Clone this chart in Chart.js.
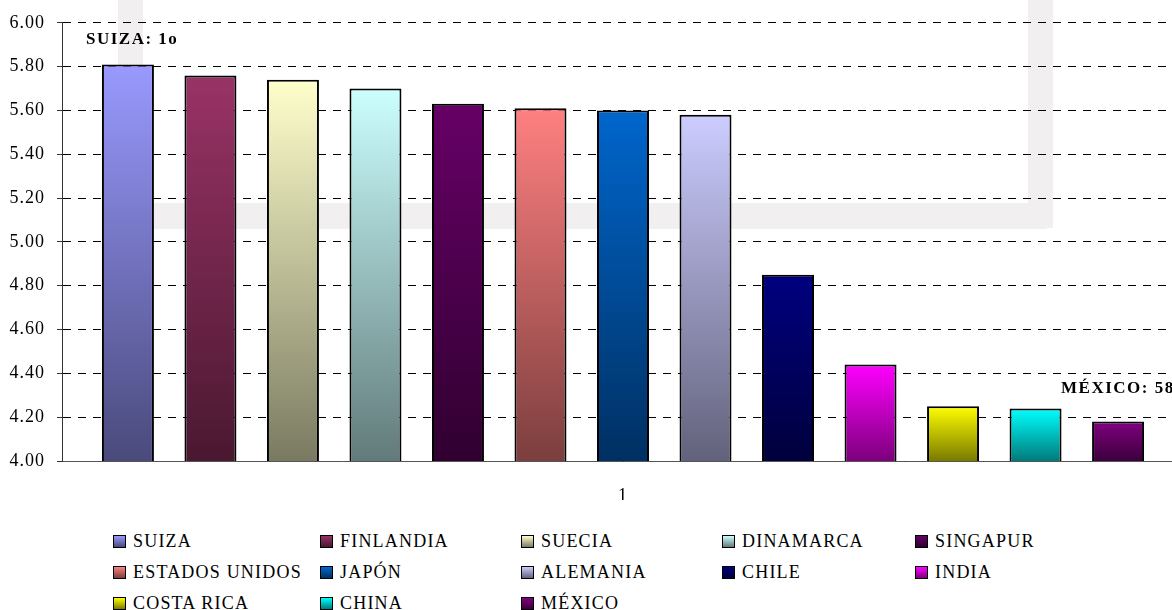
<!DOCTYPE html>
<html>
<head>
<meta charset="utf-8">
<script src="https://cdn.jsdelivr.net/npm/chart.js@4/dist/chart.umd.min.js"></script>
<style>
    html, body { margin: 0; padding: 0; background: #fff; overflow: hidden; width: 1172px; height: 610px; }
    #wrap { position: absolute; left: 0; top: 0; width: 1184px; height: 500px; }
    #legend {
        position: absolute; left: 113px; top: 526px;
        display: grid; grid-template-columns: 207px 201px 201px 193px 200px; grid-auto-rows: 31px;
        font-family: "Liberation Serif", "Times New Roman", serif; font-size: 18px; letter-spacing: 1.2px; color: #000;
    }
    #legend div { display: flex; align-items: center; white-space: nowrap; }
    #legend span.box { width: 11px; height: 11px; border: 1px solid #000; margin-right: 7px; flex: none; }
</style>
</head>
<body>
<div id="wrap"><canvas id="chart"></canvas></div>
<div id="legend"></div>
<script>
// data
const categories = ['1'];
const countries = ['SUIZA', 'FINLANDIA', 'SUECIA', 'DINAMARCA', 'SINGAPUR', 'ESTADOS UNIDOS', 'JAPÓN',
    'ALEMANIA', 'CHILE', 'INDIA', 'COSTA RICA', 'CHINA', 'MÉXICO'];
const scores = [5.81, 5.76, 5.74, 5.70, 5.63, 5.61, 5.60, 5.58, 4.85, 4.44, 4.25, 4.24, 4.18];
const yTicks = [4.0, 4.2, 4.4, 4.6, 4.8, 5.0, 5.2, 5.4, 5.6, 5.8, 6.0];
const notes = [
    { series: 0, text: 'SUIZA: 1o' },
    { series: 12, text: 'MÉXICO: 58o' }
];

// gradient colours, light at the top, dark at the base
const topColors = ['#9999ff', '#993366', '#ffffcc', '#ccffff', '#660066', '#ff8080', '#0066cc',
    '#ccccff', '#000080', '#ff00ff', '#ffff00', '#00ffff', '#800080'];
const bottomColors = ['#4a4a7c', '#4a1830', '#7a7a62', '#627a7a', '#300030', '#7c3e3e', '#003062',
    '#62627c', '#00003c', '#7c007c', '#7a7a00', '#007a7a', '#3c003c'];

const FONT = '"Liberation Serif", "Times New Roman", serif';
const noteOffsets = [{ dx: -42, dy: -25 }, { dx: -57, dy: -33 }];

const barGradient = (i) => (ctx) => {
    const chart = ctx.chart;
    if (!chart.chartArea || ctx.type !== 'data') return topColors[i];
    const y = chart.scales.y;
    const g = chart.ctx.createLinearGradient(0, y.getPixelForValue(ctx.parsed.y), 0, y.getPixelForValue(y.min));
    g.addColorStop(0, topColors[i]);
    g.addColorStop(1, bottomColors[i]);
    return g;
};

const datasets = countries.map((name, i) => ({
    label: name,
    data: [scores[i]],
    backgroundColor: barGradient(i),
    borderColor: '#000',
    borderWidth: 2,
    borderSkipped: false
}));

// faint frame behind the plot (a picture in the original sheet)
const backdrop = {
    id: 'backdrop',
    beforeDraw(chart) {
        const c = chart.ctx;
        c.save();
        c.fillStyle = '#f2eff0';
        c.fillRect(118, 0, 25, 229);
        c.fillRect(1028, 0, 25, 228);
        c.fillRect(118, 203, 929, 26);
        c.restore();
        c.letterSpacing = '1px';
    }
};

const notesPlugin = {
    id: 'notes',
    afterDatasetsDraw(chart) {
        const c = chart.ctx;
        c.save();
        c.font = 'bold 17px ' + FONT;
        c.letterSpacing = '1.5px';
        c.fillStyle = '#000';
        c.textBaseline = 'middle';
        c.textAlign = 'left';
        notes.forEach((n, k) => {
            const bar = chart.getDatasetMeta(n.series).data[0];
            c.fillText(n.text, bar.x + noteOffsets[k].dx, bar.y + noteOffsets[k].dy);
        });
        c.restore();
    }
};

new Chart(document.getElementById('chart'), {
    type: 'bar',
    data: { labels: categories, datasets },
    plugins: [backdrop, notesPlugin],
    options: {
        responsive: true,
        maintainAspectRatio: false,
        animation: false,
        layout: { padding: { top: 22, right: 0, bottom: 0, left: 0 } },
        datasets: { bar: { categoryPercentage: 0.956, barPercentage: 0.63 } },
        plugins: { legend: { display: false }, tooltip: { enabled: false } },
        scales: {
            x: {
                grid: { display: false, drawTicks: false },
                border: { display: true, color: '#555', width: 1 },
                ticks: { color: '#000', padding: 24, font: { family: FONT, size: 18 } },
                afterFit: s => { s.height = 39; }
            },
            y: {
                min: 4, max: 6,
                afterBuildTicks: s => { s.ticks = yTicks.map(v => ({ value: v })); },
                grid: { color: '#000', lineWidth: 1, tickLength: 5, tickBorderDash: [5, 0], tickColor: '#333' },
                border: { display: true, color: '#333', width: 1, dash: [8, 7] },
                ticks: { color: '#000', padding: 12, font: { family: FONT, size: 18 }, callback: v => Number(v).toFixed(2) },
                afterFit: s => { s.width = 62; }
            }
        }
    }
});

// legend laid out in fixed columns like the spreadsheet
const legend = document.getElementById('legend');
countries.forEach((name, i) => {
    const item = document.createElement('div');
    const box = document.createElement('span');
    box.className = 'box';
    box.style.background = `linear-gradient(${topColors[i]}, ${bottomColors[i]})`;
    item.appendChild(box);
    item.appendChild(document.createTextNode(name));
    legend.appendChild(item);
});
</script>
</body>
</html>
